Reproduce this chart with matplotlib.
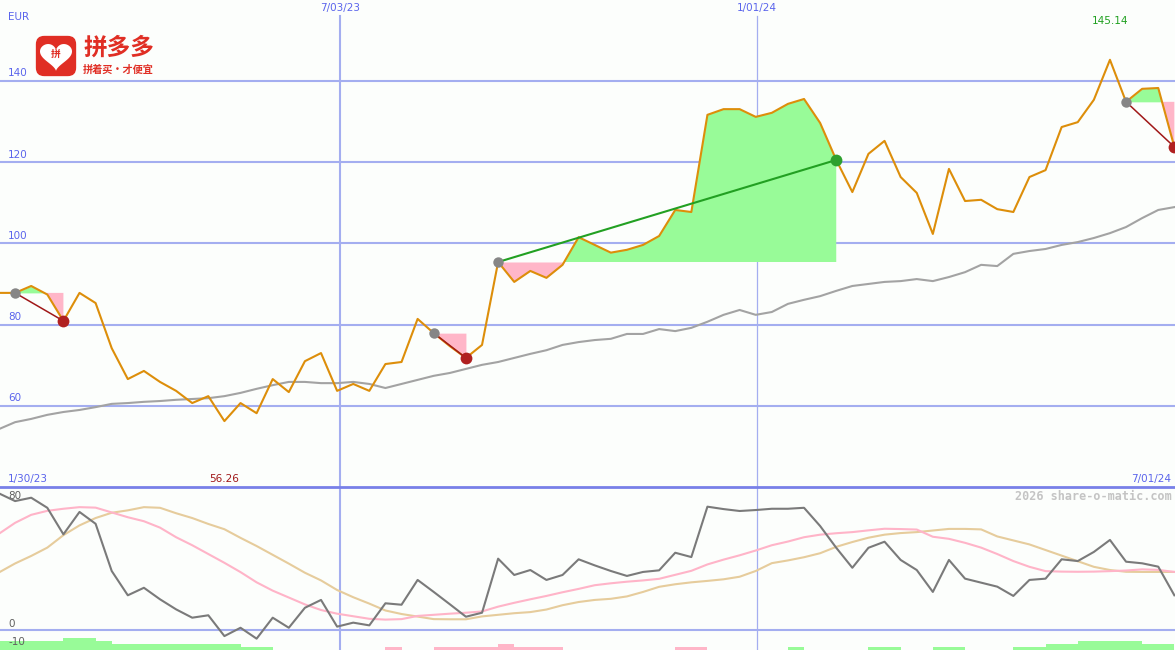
import numpy as np
import matplotlib
matplotlib.use('Agg')
import matplotlib.pyplot as plt
from matplotlib.patches import FancyBboxPatch
from matplotlib.lines import Line2D

# weekly closing prices (EUR), first point ~5 Feb 2023
price = [87.8, 87.8, 89.5, 87.4, 80.9, 87.8, 85.3, 74.2, 66.6, 68.6,
         65.9, 63.7, 60.7, 62.4, 56.26, 60.7, 58.2, 66.6, 63.4, 71.0,
         73.0, 63.7, 65.4, 63.7, 70.3, 70.8, 81.4, 77.9, 74.7, 71.8,
         75.0, 95.4, 90.5, 93.2, 91.5, 94.7, 101.5, 99.6, 97.7, 98.4,
         99.6, 101.8, 108.2, 107.7, 131.6, 133.0, 133.0, 131.1, 132.1, 134.3,
         135.5, 129.6, 120.5, 112.6, 122.0, 125.2, 116.3, 112.4, 102.3, 118.3,
         110.4, 110.7, 108.4, 107.7, 116.3, 118.0, 128.6, 129.8, 135.3, 145.14,
         134.8, 138.0, 138.2, 123.7]

# long moving average (grey)
ma_long = [54.3, 56.0, 56.8, 57.8, 58.5, 59.0, 59.7, 60.5, 60.7, 61.0,
           61.2, 61.5, 61.7, 61.9, 62.4, 63.2, 64.2, 65.1, 65.9, 65.9,
           65.6, 65.6, 65.9, 65.4, 64.4, 65.4, 66.4, 67.4, 68.1, 69.1,
           70.1, 70.8, 71.8, 72.8, 73.7, 75.0, 75.7, 76.2, 76.5, 77.7,
           77.7, 78.9, 78.4, 79.2, 80.7, 82.4, 83.6, 82.4, 83.1, 85.1,
           86.1, 87.0, 88.3, 89.5, 90.0, 90.5, 90.7, 91.2, 90.7, 91.7,
           92.9, 94.7, 94.4, 97.4, 98.1, 98.6, 99.6, 100.3, 101.3, 102.5,
           104.0, 106.2, 108.2, 108.9]

# trades: entry / exit week index
entry_idx = [1, 27, 31, 70]
exit_idx = [4, 29, 52, 73]

# lower panel oscillator
osc = [85.4, 80.6, 82.7, 76.4, 59.8, 73.8, 66.4, 36.9, 21.7, 26.4,
       19.2, 12.9, 7.7, 9.2, -3.8, 1.4, -5.4, 7.7, 1.4, 13.9,
       18.8, 2.1, 4.6, 2.9, 16.7, 15.8, 31.3, 23.8, 16.1, 8.3,
       10.8, 44.6, 34.4, 37.5, 31.3, 34.4, 44.2, 40.4, 36.9, 33.8,
       36.3, 37.3, 48.3, 45.6, 77.1, 75.6, 74.4, 75.0, 75.8, 75.8,
       76.4, 65.0, 51.4, 38.9, 51.4, 55.2, 43.8, 37.5, 23.8, 43.8,
       32.1, 29.6, 27.1, 21.3, 31.3, 32.1, 44.2, 43.1, 48.8, 56.3,
       42.7, 41.7, 39.6, 21.7]
osc_fast = [60.2, 67.0, 72.0, 74.5, 75.8, 76.8, 76.5, 73.5, 70.5, 68.0,
            64.0, 58.0, 53.0, 47.5, 42.0, 36.2, 29.8, 24.6, 20.3, 16.0,
            12.5, 10.2, 8.6, 7.0, 6.5, 6.8, 8.8, 9.5, 10.2, 10.8,
            11.6, 14.6, 17.0, 19.2, 21.3, 23.6, 25.7, 28.0, 29.2, 30.2,
            31.0, 32.0, 34.5, 37.0, 41.0, 44.0, 46.7, 49.7, 53.0, 55.3,
            58.0, 59.6, 60.5, 61.2, 62.3, 63.3, 63.1, 62.8, 58.3, 57.0,
            54.5, 51.5, 47.5, 43.1, 39.5, 36.8, 36.5, 36.4, 36.5, 36.8,
            37.2, 37.9, 37.6, 36.3]
osc_slow = [36.0, 41.6, 46.3, 51.5, 59.3, 65.4, 70.0, 73.3, 74.8, 76.8,
            76.4, 73.0, 70.0, 66.3, 63.0, 57.6, 52.5, 47.0, 41.5, 35.8,
            31.0, 25.0, 20.5, 16.5, 12.2, 10.0, 8.4, 6.8, 6.7, 6.7,
            8.5, 9.5, 10.5, 11.2, 12.8, 15.5, 17.5, 18.8, 19.5, 21.0,
            23.8, 27.0, 28.6, 29.8, 30.7, 31.7, 33.3, 36.9, 41.8, 43.5,
            45.5, 48.0, 52.0, 55.0, 57.7, 59.6, 60.6, 61.2, 62.2, 63.2,
            63.2, 62.9, 58.5, 56.0, 53.5, 50.0, 46.5, 43.0, 39.5, 37.5,
            36.4, 36.3, 36.3, 36.3]
# histogram at the bottom (one per week interval, sign = colour)
hist = [5.6]*4 + [7.5]*2 + [5.6] + [3.9]*8 + [1.9]*2 + [0]*7 + [-1.9] + [0]*2 \
     + [-1.9]*4 + [-3.9] + [-1.9]*3 + [0]*7 + [-1.9]*2 + [0]*5 + [1.9] + [0]*4 \
     + [1.9]*2 + [0]*2 + [1.9]*2 + [0]*3 + [1.9]*2 + [3.9]*2 + [5.6]*4 + [3.9]*2

# date lines, in weeks since first point
date_lines = [21.18, 47.08]
date_labels = ['7/03/23', '1/01/24']

W, H = 1175, 650
BG = '#fcfefc'
GRID = '#a4aef0'
BLUE_TXT = '#5a64ec'
LW = 1.5

fig = plt.figure(figsize=(W/100, H/100), dpi=100, facecolor=BG)

def fx(x):
    return x / W

def fy(y):
    return 1 - y / H

x = np.arange(len(price))
price = np.array(price)
xlim = (0.062, 73.04)

# ---------- upper panel ----------
ax = fig.add_axes([0, fy(487), 1, 487/H])
ax.set_facecolor(BG)
ax.set_xlim(*xlim)
ax.set_ylim(40.05, 159.85)
ax.axis('off')

for v in [60, 80, 100, 120, 140]:
    ax.axhline(v, color=GRID, lw=LW, zorder=1)
    ax.text(0.007, v + 0.6, str(v), transform=ax.get_yaxis_transform(),
            color=BLUE_TXT, fontsize=7.5, va='bottom', ha='left')
ax.text(0.007, 155.7, 'EUR', transform=ax.get_yaxis_transform(),
        color=BLUE_TXT, fontsize=7.5, va='center', ha='left')

for k, d in enumerate(date_lines):
    ax.axvline(d, ymax=(487-16)/487, color=GRID, lw=LW if k == 0 else 0.9, zorder=1)
    ax.text(d, 157.9, date_labels[k], color=BLUE_TXT, fontsize=7.5,
            ha='center', va='center')

ax.plot(x, ma_long, color='#a3a3a3', lw=LW, zorder=3)

for e, s in zip(entry_idx, exit_idx):
    seg = np.arange(e, s + 1)
    lvl = price[e]
    ax.fill_between(seg, price[seg], lvl, where=price[seg] >= lvl,
                    interpolate=True, color='#98fb98', lw=0, zorder=2)
    ax.fill_between(seg, price[seg], lvl, where=price[seg] <= lvl,
                    interpolate=True, color='#ffb6c8', lw=0, zorder=2)

ax.plot(x, price, color='#dd8e0a', lw=LW, zorder=4)

for e, s in zip(entry_idx, exit_idx):
    win = price[s] > price[e]
    lc = '#22a022' if win else '#a01818'
    ax.plot([e, s], [price[e], price[s]], color=lc, lw=LW if win else 1.1, zorder=5)
    ax.plot(e, price[e], 'o', ms=7.5, color='#868686', mec='none', zorder=6)
    ax.plot(s, price[s], 'o', ms=8.5, color='#2ea02e' if win else '#b02020',
            mec='none', zorder=6)

imax = int(np.argmax(price))
imin = int(np.argmin(price))
ax.text(imax, 154.6, f'{price[imax]:.2f}', color='#20a020', fontsize=7.5,
        ha='center', va='center')
ax.text(imin, 42.0, f'{price[imin]:.2f}', color='#a01818', fontsize=7.5,
        ha='center', va='center')
ax.text(0.007, 42.0, '1/30/23', transform=ax.get_yaxis_transform(),
        color=BLUE_TXT, fontsize=7.5, ha='left', va='center')
ax.text(0.997, 42.0, '7/01/24', transform=ax.get_yaxis_transform(),
        color=BLUE_TXT, fontsize=7.5, ha='right', va='center')

# ---------- lower panel ----------
ax2 = fig.add_axes([0, 0, 1, 163/H])
ax2.set_facecolor(BG)
ax2.set_xlim(*xlim)
ylo, yhi = -12.5, 89.4
ax2.set_ylim(ylo, yhi)
ax2.axis('off')

ax2.axhline(0, color=GRID, lw=LW, zorder=1)
for k, d in enumerate(date_lines):
    ax2.axvline(d, color=GRID, lw=LW if k == 0 else 0.9, zorder=1)

hist = np.array(hist)
ax2.bar(x[:-1], np.abs(hist), width=1, align='edge', bottom=ylo,
        color=np.where(hist >= 0, '#98fb98', '#ffb6c8'), lw=0, zorder=2)

ax2.plot(x, osc_slow, color='#e6cc9c', lw=LW, zorder=3)
ax2.plot(x, osc_fast, color='#ffb4c8', lw=LW, zorder=3)
ax2.plot(x, osc, color='#7a7a7a', lw=LW, zorder=4)

ax2.text(0.007, 83.5, '80', transform=ax2.get_yaxis_transform(),
         color='#606060', fontsize=7.5, ha='left', va='center')
ax2.text(0.007, 3.8, '0', transform=ax2.get_yaxis_transform(),
         color='#606060', fontsize=7.5, ha='left', va='center')
ax2.text(0.007, -7.5, '-10', transform=ax2.get_yaxis_transform(),
         color='#606060', fontsize=7.5, ha='left', va='center')
ax2.text(0.997, 83.5, '2026 share-o-matic.com', transform=ax2.get_yaxis_transform(),
         color='#c4c4c4', fontsize=8.5, family='DejaVu Sans Mono',
         weight='bold', ha='right', va='center')

# panel separator
fig.add_artist(Line2D([0, 1], [fy(487), fy(487)], color='#7880e8', lw=2))

# ---------- logo ----------
lax = fig.add_axes([fx(35), fy(77), fx(42), 42/H])
lax.set_xlim(0, 1)
lax.set_ylim(0, 1)
lax.axis('off')
lax.add_patch(FancyBboxPatch((0.02, 0.02), 0.96, 0.96,
                             boxstyle='round,pad=0,rounding_size=0.2',
                             fc='#e02e24', ec='none'))
t = np.linspace(0, 2*np.pi, 200)
hx = 16*np.sin(t)**3
hy = 13*np.cos(t) - 5*np.cos(2*t) - 2*np.cos(3*t) - np.cos(4*t)
lax.fill(0.5 + hx/42, 0.52 + hy/45, color='white', lw=0)
lax.text(0.5, 0.55, '拼', color='#e02e24', fontsize=7, ha='center', va='center',
         family=['Noto Sans CJK SC', 'DejaVu Sans'], weight='bold')

fig.text(fx(83), fy(48), '拼多多', color='#e02e24', fontsize=17,
         family=['Noto Sans CJK SC', 'DejaVu Sans'], weight='bold',
         ha='left', va='center')
fig.text(fx(83), fy(70), '拼着买·才便宜', color='#e02e24', fontsize=7.3,
         family=['Noto Sans CJK SC', 'DejaVu Sans'], weight='bold',
         ha='left', va='center')

fig.savefig('out.png', dpi=100, facecolor=BG)
